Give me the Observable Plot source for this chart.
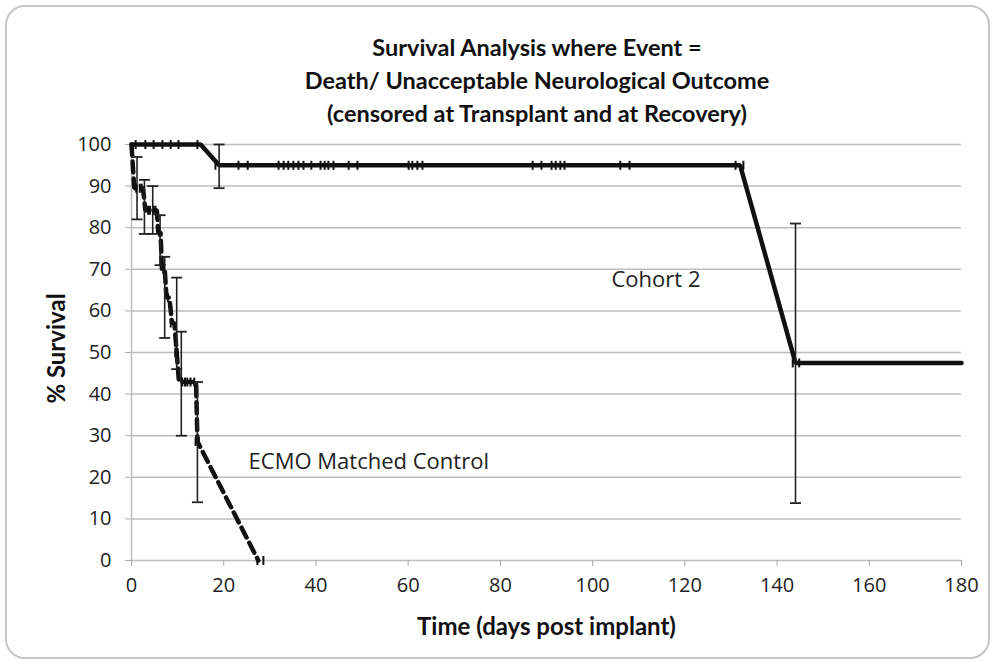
<!DOCTYPE html>
<html><head><meta charset="utf-8">
<script src="https://cdn.jsdelivr.net/npm/d3@7"></script>
<script src="https://cdn.jsdelivr.net/npm/@observablehq/plot@0.6"></script>
<style>
body{margin:0;background:#fff;}
#frame{position:absolute;left:5px;top:5px;width:981px;height:650px;border:2px solid #c6c6c6;border-radius:20px;}
#title{position:absolute;left:0;top:31px;width:1074px;text-align:center;font-family:Lato;font-weight:bold;font-size:23.5px;line-height:33px;color:#111;}
#chart{position:absolute;left:0;top:130px;}
</style>
</head><body>
<div id="frame"></div>
<div id="title">Survival Analysis where Event =<br>Death/ Unacceptable Neurological Outcome<br>(censored at Transplant and at Recovery)</div>
<div id="chart"></div>
<script>
// ---- data ----
const xTicks = [0,20,40,60,80,100,120,140,160,180];
const yTicks = [0,10,20,30,40,50,60,70,80,90,100];

const cohortDays = [0,15,19,132,144,180];
const cohortSurv = [100,100,95,95,47.5,47.5];
const cohortCensorDays = [0.9,3.0,4.8,6.7,8.5,10.2,14.3,
  18.2,23.2,25.2,31.9,33.0,34.0,35.1,36.2,37.3,39.0,41.0,41.9,42.7,43.8,47.1,49.0,
  60.1,60.9,62.0,63.1,87.0,88.9,91.1,92.0,93.0,93.9,106.0,108.0,131.0,132.7,143.4,144.8];
const cohortCensorSurv = [100,100,100,100,100,100,100,
  95,95,95,95,95,95,95,95,95,95,95,95,95,95,95,95,
  95,95,95,95,95,95,95,95,95,95,95,95,95,95,47.5,47.5];
const cohortErrDays = [19,144];
const cohortErrLo = [89.5,13.8];
const cohortErrHi = [100,81];

const ecmoDays = [0,0.3,0.6,1.5,2.5,3.0,3.4,4.5,5.5,5.8,6.3,6.6,7.2,7.6,8.2,8.8,9.3,9.8,10.3,12.5,14.0,14.3,27.5];
const ecmoSurv = [100,94.7,89.5,89.5,89.5,84.2,84.2,84.2,84.2,78.9,78.9,70,70,63.2,63.2,57.1,57.1,50,42.9,42.9,42.9,28.6,0];
const ecmoCensorDays = [0.4,1.0,1.8,2.2,3.6,4.0,4.8,5.2,6.0,6.9,7.9,8.5,9.5,10.0,11.0,11.6,12.1,12.8,13.6,13.9,14.6,27.3,28.6];
const ecmoCensorSurv = [94.7,89.5,89.5,89.5,84.2,84.2,84.2,84.2,78.9,70,63.2,57.1,50,50,42.9,42.9,42.9,42.9,42.9,28.6,28.6,0,0];
const ecmoErrDays = [1.2,2.8,4.6,6.2,7.2,9.8,10.8,14.3];
const ecmoErrLo = [82,78.5,78.5,71,53.5,46,30,14];
const ecmoErrHi = [97,91.5,90,83,73,68,55,42.9];

const labels = ["Cohort 2","ECMO Matched Control"];

// ---- build tables ----
const zip2 = (xs, ys) => xs.map((x,i)=>({x, y: ys[i]}));
const zipErr = (xs, lo, hi) => xs.map((x,i)=>({x, lo: lo[i], hi: hi[i]}));
const cohortLine = zip2(cohortDays, cohortSurv);
const ecmoLine = zip2(ecmoDays, ecmoSurv);
const censors = zip2(cohortCensorDays, cohortCensorSurv).concat(zip2(ecmoCensorDays, ecmoCensorSurv));
const errs = zipErr(cohortErrDays, cohortErrLo, cohortErrHi).concat(zipErr(ecmoErrDays, ecmoErrLo, ecmoErrHi));
const caps = errs.flatMap(d => [{x:d.x, y:d.lo},{x:d.x, y:d.hi}]);

const vtick = {draw(ctx, size){const r=Math.sqrt(size/Math.PI); ctx.moveTo(0,-r); ctx.lineTo(0,r);}};
const hcap = {draw(ctx, size){const r=Math.sqrt(size/Math.PI); ctx.moveTo(-r,0); ctx.lineTo(r,0);}};

const chart = Plot.plot({
  width: 994, height: 536,
  marginLeft: 131, marginRight: 33, marginTop: 14, marginBottom: 106,
  x: {domain: [0,180]},
  y: {domain: [0,100]},
  style: {fontFamily: "Open Sans", fontSize: "20px", color: "#222", background: "transparent"},
  marks: [
    Plot.ruleY(yTicks, {stroke: "#bdbdbd", strokeWidth: 1.5}),
    Plot.ruleX([0], {stroke: "#bdbdbd", strokeWidth: 1.5}),
    Plot.axisX({ticks: xTicks, tickSize: 6, tickPadding: 11, stroke: "#aaa", label: null, fill: "#222"}),
    Plot.axisY({ticks: yTicks, tickSize: 6, tickPadding: 14, stroke: "#aaa", label: null, fill: "#222"}),
    Plot.line(ecmoLine, {x: "x", y: "y", stroke: "#111", strokeWidth: 4.5, strokeDasharray: "11,6", strokeLinejoin: "miter"}),
    Plot.line(cohortLine, {x: "x", y: "y", stroke: "#111", strokeWidth: 4.5, strokeLinejoin: "miter"}),
    Plot.ruleX(errs, {x: "x", y1: "lo", y2: "hi", stroke: "#222", strokeWidth: 1.6}),
    Plot.dot(caps, {x: "x", y: "y", symbol: hcap, r: 5.5, fill: "none", stroke: "#222", strokeWidth: 1.8}),
    Plot.dot(censors, {x: "x", y: "y", symbol: vtick, r: 4.5, fill: "none", stroke: "#111", strokeWidth: 2}),
    Plot.text([labels[0]], {x: 104.1, y: 67.5, textAnchor: "start", fontSize: 22, fill: "#222"}),
    Plot.text([labels[1]], {x: 25.4, y: 23.6, textAnchor: "start", fontSize: 22, fill: "#222"}),
    Plot.text(["% Survival"], {frameAnchor: "left", dx: -74, dy: -4, rotate: -90, textAnchor: "middle", lineAnchor: "middle", fontSize: 24, fontWeight: "bold", fontFamily: "Lato", fill: "#111"}),
    Plot.text(["Time (days post implant)"], {frameAnchor: "bottom", dy: 67, textAnchor: "middle", lineAnchor: "middle", fontSize: 24, fontWeight: "bold", fontFamily: "Lato", fill: "#111"})
  ]
});
document.getElementById("chart").appendChild(chart);
</script>
</body></html>
